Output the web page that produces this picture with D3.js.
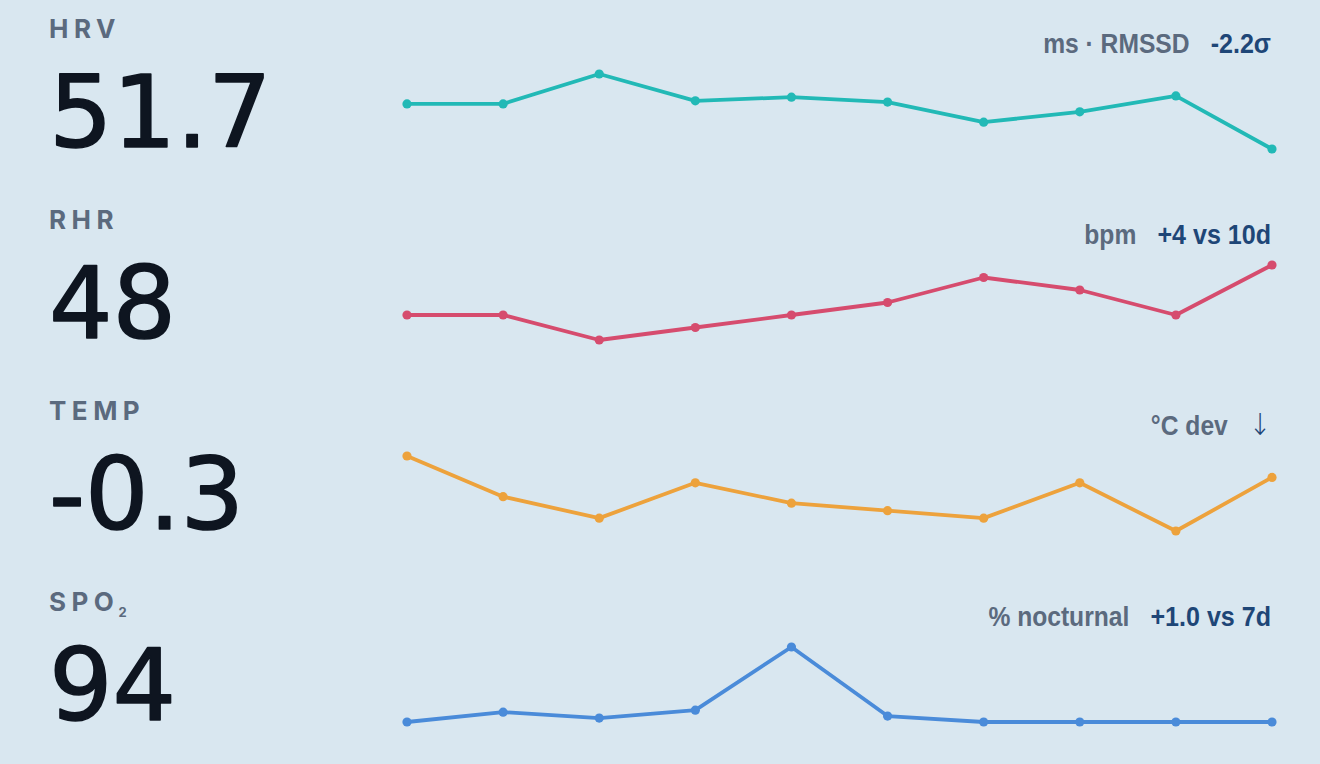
<!DOCTYPE html>
<html>
<head>
<meta charset="utf-8">
<script src="https://cdn.jsdelivr.net/npm/d3@7"></script>
<style>
  html, body { margin: 0; padding: 0; background: #d9e7f0; }
  #chart { width: 1320px; height: 764px; }
</style>
</head>
<body>
<div id="chart"></div>
<script>
// nights, oldest first
const nights = [1, 2, 3, 4, 5, 6, 7, 8, 9, 10];

const metricNames = ["HRV", "RHR", "TEMP", "SPO"];
const metricSubs = ["", "", "", "2"];
const currentValues = ["51.7", "48", "-0.3", "94"];
const unitLabels = ["ms · RMSSD", "bpm", "°C dev", "% nocturnal"];
const deltaLabels = ["-2.2σ", "+4 vs 10d", "↓", "+1.0 vs 7d"];
const lineColors = ["#22b9b6", "#d64c6e", "#eda23c", "#4a8bd9"];

const hrvValues = [59.1, 59.1, 64.0, 59.6, 60.2, 59.4, 56.1, 57.8, 60.4, 51.7];
const rhrValues = [44, 44, 42, 43, 44, 45, 47, 46, 44, 48];
const tempValues = [-0.1, -0.48, -0.68, -0.35, -0.54, -0.61, -0.68, -0.35, -0.8, -0.3];
const spo2Values = [94.0, 94.5, 94.2, 94.6, 97.8, 94.3, 94.0, 94.0, 94.0, 94.0];

const series = [hrvValues, rhrValues, tempValues, spo2Values];

const W = 1320, H = 764;
const rowStep = 191;
const squeeze = 0.88; // condensed look for the right-hand captions

const svg = d3.select("#chart").append("svg")
    .attr("width", W)
    .attr("height", H);

const x = d3.scalePoint().domain(nights).range([407, 1272]);

metricNames.forEach((name, i) => {
    const g = svg.append("g").attr("class", "row")
        .attr("transform", `translate(0, ${i * rowStep})`);

    // metric name
    const label = g.append("text")
        .attr("x", 49)
        .attr("y", 38)
        .style("font-family", "Inter, 'Noto Sans', sans-serif")
        .style("font-weight", 700)
        .style("font-size", "26px")
        .style("letter-spacing", "5.5px")
        .style("fill", "#5b6a7e")
        .text(name);
    if (metricSubs[i]) {
        label.append("tspan")
            .attr("dx", -1)
            .attr("dy", 6)
            .style("font-size", "13px")
            .style("letter-spacing", "0px")
            .text(metricSubs[i]);
    }

    // big current value
    g.append("text")
        .attr("x", 49)
        .attr("y", 147)
        .style("font-family", "'DejaVu Sans', sans-serif")
        .style("font-weight", 400)
        .style("font-size", "100px")
        .style("fill", "#0e1520")
        .style("stroke", "#0e1520")
        .style("stroke-width", 1.6)
        .style("stroke-linejoin", "round")
        .text(currentValues[i]);

    // unit + delta, right aligned, squeezed horizontally
    const cap = g.append("g")
        .attr("transform", `translate(1271, 53) scale(${squeeze}, 1)`);

    const delta = cap.append("text")
        .attr("text-anchor", "end")
        .style("font-family", i === 2 ? "'DejaVu Sans', sans-serif" : "'Liberation Sans', sans-serif")
        .style("font-weight", i === 2 ? 300 : 700)
        .style("font-size", i === 2 ? "30px" : "28.5px")
        .style("fill", "#1e4677")
        .text(deltaLabels[i]);
    const dw = delta.node().getComputedTextLength();

    cap.append("text")
        .attr("x", -dw - 24)
        .attr("text-anchor", "end")
        .style("font-family", "'Liberation Sans', sans-serif")
        .style("font-weight", 700)
        .style("font-size", "28px")
        .style("fill", "#5b6a7e")
        .text(unitLabels[i]);

    // sparkline
    const vals = series[i];
    const y = d3.scaleLinear().domain(d3.extent(vals)).range([149, 74]);
    const pts = nights.map((n, k) => [n, vals[k]]);

    g.append("path")
        .datum(pts)
        .attr("fill", "none")
        .attr("stroke", lineColors[i])
        .attr("stroke-width", 3.8)
        .attr("stroke-linejoin", "round")
        .attr("d", d3.line().x(d => x(d[0])).y(d => y(d[1])));

    g.append("g").selectAll("circle")
        .data(pts)
        .join("circle")
        .attr("cx", d => x(d[0]))
        .attr("cy", d => y(d[1]))
        .attr("r", 4.6)
        .attr("fill", lineColors[i]);
});
</script>
</body>
</html>
